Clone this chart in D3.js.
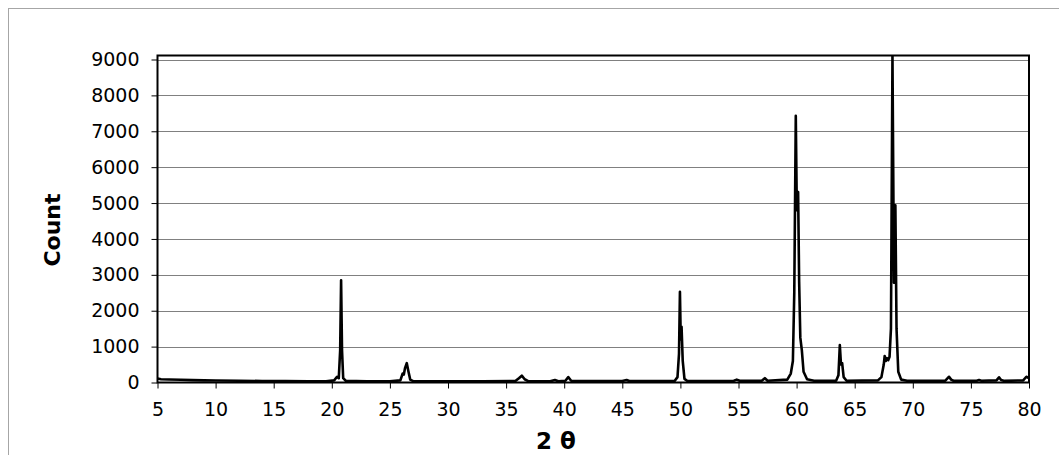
<!DOCTYPE html>
<html>
<head>
<meta charset="utf-8">
<script src="https://cdn.jsdelivr.net/npm/d3@7/dist/d3.min.js"></script>
<style>
  html, body { margin: 0; padding: 0; background: #fff; }
  svg { display: block; font-family: "DejaVu Sans", Verdana, sans-serif; }
</style>
</head>
<body>
<svg id="chart" width="1059" height="455"></svg>
<script>
// Diffraction scan: 2θ positions (degrees) and counts
const twoTheta = [
  5, 5.3, 6, 7, 8, 9, 10, 12, 14, 16, 18, 19.5,
  20.2, 20.45, 20.6, 20.72, 20.8, 20.88, 20.98, 21.2,
  23, 25, 25.9, 26.1, 26.2, 26.3, 26.45, 26.6, 26.75, 27,
  30, 33, 35.8, 36.1, 36.35, 36.6, 36.9,
  38.8, 39.2, 39.5, 40.1, 40.35, 40.6,
  42, 45, 45.37, 45.6,
  49.5, 49.75, 49.88, 49.96, 50.03, 50.1, 50.2, 50.35, 50.6,
  54.6, 54.85, 55.1, 57, 57.27, 57.5,
  59.2, 59.5, 59.68, 59.8, 59.93, 60.02, 60.13, 60.22, 60.32, 60.45, 60.6, 60.9, 61.5,
  63.4, 63.6, 63.72, 63.82, 63.92, 64.05, 64.3,
  67.0, 67.3, 67.5, 67.58, 67.68, 67.78, 67.88, 68.0, 68.12, 68.25, 68.38, 68.5, 68.6, 68.75, 69.0, 69.5,
  72.8, 73.0, 73.12, 73.3, 73.5,
  75.5, 75.7, 75.9,
  77.2, 77.42, 77.6, 77.9,
  79.5, 79.77, 80
];
const counts = [
  110, 90, 85, 75, 65, 60, 55, 48, 42, 38, 35, 35,
  60, 160, 120, 900, 2850, 900, 120, 50,
  35, 35, 60, 250, 220, 400, 540, 300, 80, 40,
  30, 30, 40, 120, 190, 90, 40,
  35, 70, 35, 50, 150, 50,
  40, 40, 70, 40,
  40, 150, 800, 2530, 1200, 1550, 600, 100, 40,
  50, 80, 50, 50, 120, 50,
  80, 250, 600, 2500, 7430, 4800, 5310, 2800, 1250, 900, 300, 90, 50,
  50, 200, 1045, 500, 540, 150, 50,
  60, 150, 500, 740, 600, 680, 620, 720, 1500, 9100, 2780, 4940, 1500, 300, 80, 50,
  50, 120, 160, 80, 50,
  50, 70, 50,
  60, 145, 70, 45,
  60, 160, 120
];

const xTicks = [5, 10, 15, 20, 25, 30, 35, 40, 45, 50, 55, 60, 65, 70, 75, 80];
const yTicks = [0, 1000, 2000, 3000, 4000, 5000, 6000, 7000, 8000, 9000];
const xTitle = "2 θ";
const yTitle = "Count";

const svg = d3.select("#chart");
const plot = { left: 157.5, right: 1029, top: 55.5, bottom: 382.5 };

const x = d3.scaleLinear().domain([5, 80]).range([plot.left, plot.right]);
const y = d3.scaleLinear().domain([0, 9000]).range([plot.bottom, 59.5]);

// outer chart frame
svg.append("rect")
  .attr("x", 8.5).attr("y", 8.5)
  .attr("width", 1070).attr("height", 470)
  .attr("fill", "none").attr("stroke", "#a6a6a6").attr("stroke-width", 1);

// horizontal gridlines
svg.append("g")
  .selectAll("line")
  .data(yTicks.filter(d => d > 0))
  .join("line")
  .attr("x1", plot.left).attr("x2", plot.right)
  .attr("y1", d => Math.round(y(d)) + 0.5).attr("y2", d => Math.round(y(d)) + 0.5)
  .attr("stroke", "#808080").attr("stroke-width", 1);

// y axis ticks and labels
const yAxis = d3.axisLeft(y).tickValues(yTicks).tickSize(6).tickPadding(12).tickFormat(d3.format("d"));
const gy = svg.append("g").attr("transform", `translate(${plot.left},0)`).call(yAxis);
gy.select(".domain").remove();
gy.selectAll(".tick line").attr("stroke", "#000");
gy.selectAll(".tick text")
  .attr("font-size", 19).attr("fill", "#000")
  .attr("font-family", "DejaVu Sans, Verdana, sans-serif");

// x axis ticks and labels
const xAxis = d3.axisBottom(x).tickValues(xTicks).tickSize(6).tickPadding(14).tickFormat(d3.format("d"));
const gx = svg.append("g").attr("transform", `translate(0,${plot.bottom})`).call(xAxis);
gx.select(".domain").remove();
gx.selectAll(".tick line").attr("stroke", "#000");
gx.selectAll(".tick text")
  .attr("font-size", 19).attr("fill", "#000")
  .attr("font-family", "DejaVu Sans, Verdana, sans-serif");

// clip the scan to the plot area
svg.append("defs").append("clipPath").attr("id", "plotClip")
  .append("rect")
  .attr("x", plot.left).attr("y", plot.top)
  .attr("width", plot.right - plot.left).attr("height", plot.bottom - plot.top);

const points = twoTheta.map((t, i) => [t, counts[i]]);
const line = d3.line().x(d => x(d[0])).y(d => y(d[1]));

svg.append("path")
  .datum(points)
  .attr("clip-path", "url(#plotClip)")
  .attr("d", line)
  .attr("fill", "none")
  .attr("stroke", "#000")
  .attr("stroke-width", 2.6)
  .attr("stroke-linejoin", "round");

// plot area border
svg.append("rect")
  .attr("x", plot.left).attr("y", plot.top)
  .attr("width", plot.right - plot.left).attr("height", plot.bottom - plot.top)
  .attr("fill", "none").attr("stroke", "#000").attr("stroke-width", 2);

// axis titles
svg.append("text")
  .attr("x", 556).attr("y", 449)
  .attr("text-anchor", "middle")
  .attr("font-size", 23).attr("font-weight", "bold")
  .text(xTitle);

svg.append("text")
  .attr("transform", "translate(60,230) rotate(-90)")
  .attr("text-anchor", "middle")
  .attr("font-size", 22).attr("font-weight", "bold")
  .text(yTitle);
</script>
</body>
</html>
